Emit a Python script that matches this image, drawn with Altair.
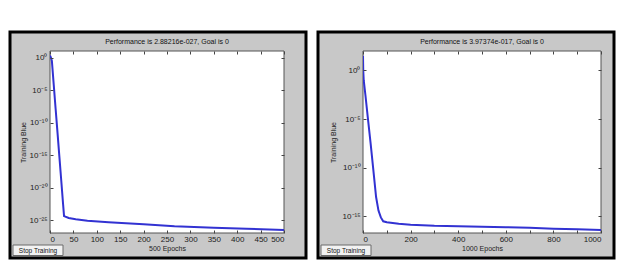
import altair as alt
import pandas as pd

# ---------------- data ----------------
left_epochs = [0, 2, 4, 8, 12, 16, 20, 24, 28, 30, 40, 55, 80, 125, 200, 266, 350, 420, 500]
left_perf = [2.0, 1.0, 0.3, 6e-5, 1.3e-8, 3e-12, 6e-16, 1.3e-19, 2.5e-23, 4.0e-25,
             2.0e-25, 1.3e-25, 7.9e-26, 4.5e-26, 2.2e-26, 1.1e-26, 6.3e-27, 4.5e-27, 2.88e-27]

right_epochs = [0, 1, 3, 10, 20, 32, 45, 55, 65, 75, 85, 100, 150, 200, 300, 400, 500,
                600, 700, 800, 900, 1000]
right_perf = [31.6, 1.0, 0.1, 3.2e-3, 1.6e-5, 3.2e-8, 2.5e-11, 1e-13, 4e-15, 8e-16, 3.2e-16,
              2.5e-16, 1.8e-16, 1.4e-16, 1.1e-16, 1.0e-16, 8.9e-17, 7.9e-17, 7.1e-17,
              5.6e-17, 5.0e-17, 3.97e-17]

left_title = "Performance is 2.88216e-027, Goal is 0"
right_title = "Performance is 3.97374e-017, Goal is 0"
left_xlabel = "500 Epochs"
right_xlabel = "1000 Epochs"
ylabel = "Training Blue"
button_text = "Stop Training"

left_xticks = [0, 50, 100, 150, 200, 250, 300, 350, 400, 450, 500]
right_xticks = [0, 100, 200, 300, 400, 500, 600, 700, 800, 900, 1000]
left_yexp = [0, -5, -10, -15, -20, -25]
left_ylabels = ["10⁰", "10⁻⁵", "10⁻¹⁰", "10⁻¹⁵", "10⁻²⁰", "10⁻²⁵"]
right_yexp = [0, -5, -10, -15]
right_ylabels = ["10⁰", "10⁻⁵", "10⁻¹⁰", "10⁻¹⁵"]

left_xdomain = [0, 500]
right_xdomain = [0, 1000]
left_ydomain = [1e-27, 1e1]
right_ydomain = [2.0e-17, 1e2]

FONT = "Liberation Sans"
GRAY = "#c8c8c8"
BLUE = "#3232d2"


def label_expr(exps, labels):
    e = "round(log(datum.value)/LN10)"
    expr = "''"
    for ex, lab in reversed(list(zip(exps, labels))):
        expr = f"({e} == {ex} ? '{lab}' : {expr})"
    return expr


def panel(epochs, perf, title, xlabel, xticks, xdomain, yexp, ylabels, ydomain,
          L, W, R, T, H, B, ytitle_pad):
    one = pd.DataFrame({"k": [0]})
    df = pd.DataFrame({"epoch": epochs, "perf": perf})

    bg = alt.Chart(one).mark_rect(fill=GRAY, stroke="black", strokeWidth=3).encode(
        x=alt.value(-L), x2=alt.value(W + R), y=alt.value(-T), y2=alt.value(H + B))
    box = alt.Chart(one).mark_rect(fill="white", stroke="#555555", strokeWidth=1).encode(
        x=alt.value(0), x2=alt.value(W), y=alt.value(0), y2=alt.value(H))

    xs = alt.Scale(domain=xdomain, nice=False, zero=False)
    ys = alt.Scale(type="log", domain=ydomain, nice=False)
    yvals = [10.0 ** e for e in yexp]

    line = alt.Chart(df).mark_line(color=BLUE, strokeWidth=2, clip=True).encode(
        x=alt.X("epoch:Q", scale=xs,
                axis=alt.Axis(orient="bottom", values=xticks, title=xlabel, offset=-3,
                              tickSize=3, domain=False, labelPadding=2, titlePadding=1,
                              format="d", grid=False, zindex=1)),
        y=alt.Y("perf:Q", scale=ys,
                axis=alt.Axis(orient="left", values=yvals, labelExpr=label_expr(yexp, ylabels),
                              title=ylabel, offset=-3, tickSize=3, domain=False,
                              labelPadding=3, titlePadding=ytitle_pad, grid=False, zindex=1)))
    frame = alt.Chart(df).mark_line(opacity=0).encode(
        x=alt.X("epoch:Q", scale=xs,
                axis=alt.Axis(orient="top", values=xticks, labels=False, title="",
                              offset=-3, tickSize=3, domain=False, grid=False, zindex=1)),
        y=alt.Y("perf:Q", scale=ys,
                axis=alt.Axis(orient="right", values=yvals, labels=False, title="",
                              offset=-3, tickSize=3, domain=False, grid=False, zindex=1)))

    ttl = alt.Chart(one).mark_text(text=title, font=FONT, fontSize=7, color="#111111",
                                   baseline="middle").encode(
        x=alt.value(W / 2), y=alt.value(-9))
    btn = alt.Chart(one).mark_rect(fill="#f2f2f2", stroke="#6a6a6a", strokeWidth=1).encode(
        x=alt.value(-L + 3), x2=alt.value(-L + 53),
        y=alt.value(H + B - 13), y2=alt.value(H + B - 2.5))
    btn_t = alt.Chart(one).mark_text(text=button_text, font=FONT, fontSize=6.5,
                                     color="#111111", baseline="middle").encode(
        x=alt.value(-L + 28), y=alt.value(H + B - 7.5))

    return alt.layer(bg, box, line, frame, ttl, btn, btn_t).resolve_axis(
        x="independent", y="independent").properties(width=W, height=H)


left = panel(left_epochs, left_perf, left_title, left_xlabel, left_xticks, left_xdomain,
             left_yexp, left_ylabels, left_ydomain, L=40, W=234, R=22, T=19, H=182, B=25,
             ytitle_pad=3)
right = panel(right_epochs, right_perf, right_title, right_xlabel, right_xticks, right_xdomain,
              right_yexp, right_ylabels, right_ydomain, L=45, W=238, R=13, T=19, H=182, B=25,
              ytitle_pad=6)

chart = alt.hconcat(left, right, spacing=8).properties(
    padding={"left": 0, "top": 22, "right": 0, "bottom": 0},
    background="white",
).configure_view(strokeWidth=0).configure_axis(
    labelFont=FONT, labelFontSize=8, labelColor="#222222",
    tickColor="#444444", tickWidth=1,
    titleFont=FONT, titleFontSize=7, titleFontWeight="normal", titleColor="#222222",
)

chart.save("out.html", embed_options={"renderer": "svg", "actions": False})
